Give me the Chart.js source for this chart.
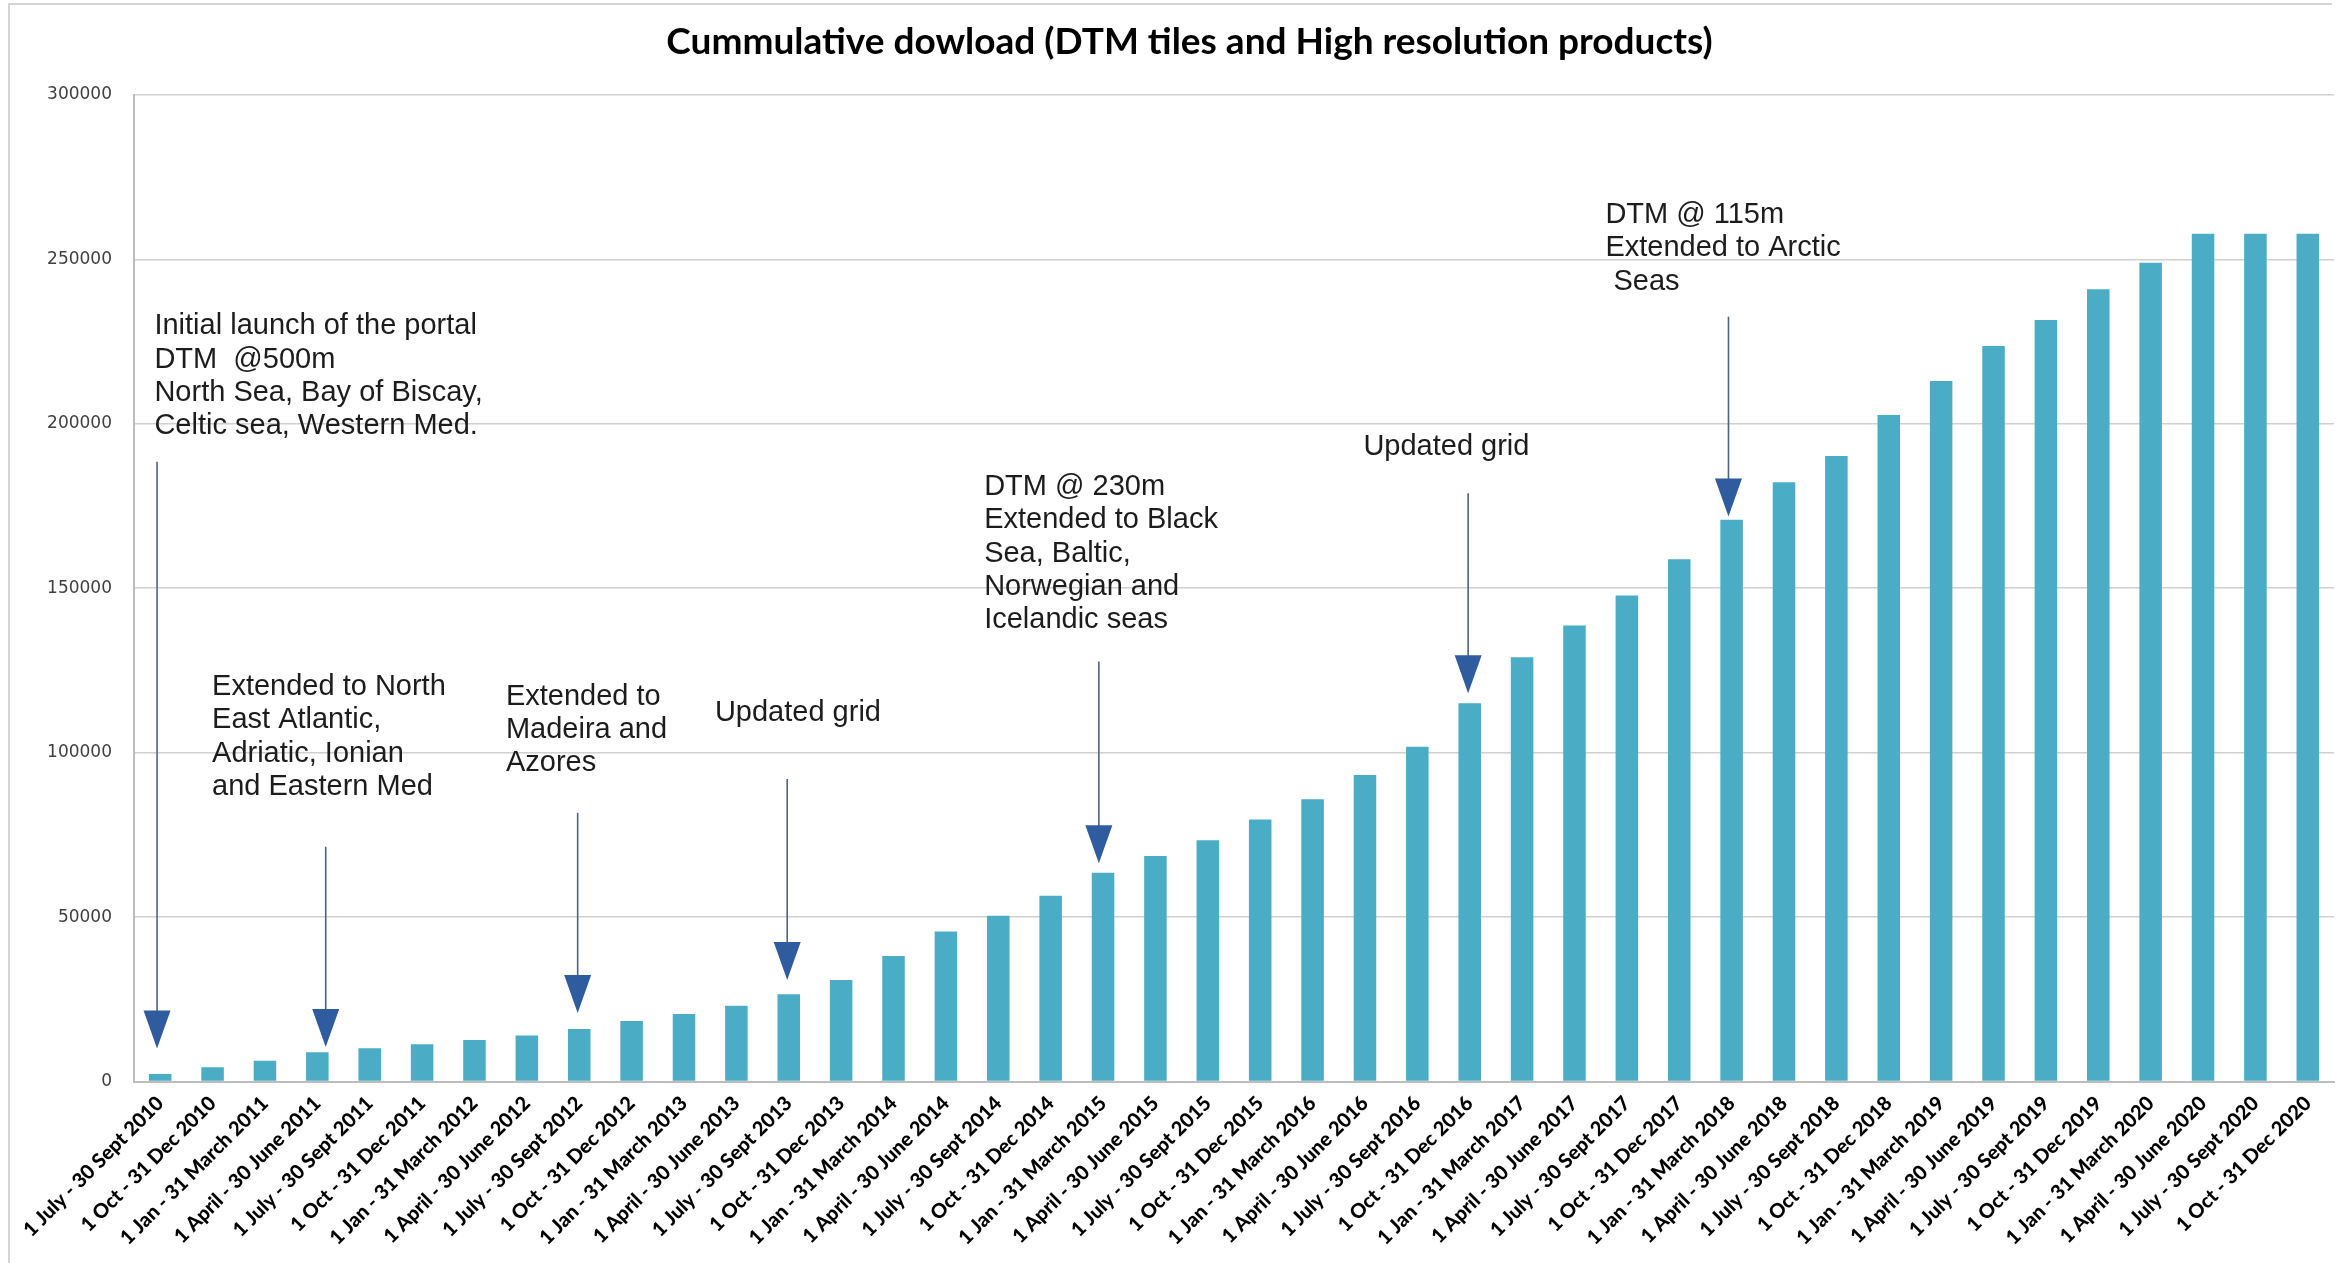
<!DOCTYPE html>
<html>
<head>
<meta charset="utf-8">
<script src="https://cdn.jsdelivr.net/npm/chart.js@4.4.1/dist/chart.umd.min.js"></script>
<style>
  html, body { margin: 0; padding: 0; background: #ffffff; }
  #c { display: block; }
</style>
</head>
<body>
<canvas id="c" width="2346" height="1263"></canvas>
<script>
// ---------- DATA ----------
const chartTitle = 'Cummulative dowload (DTM tiles and High resolution products)';

const quarters = [
  '1 July - 30 Sept 2010', '1 Oct - 31 Dec 2010',
  '1 Jan - 31 March 2011', '1 April - 30 June 2011', '1 July - 30 Sept 2011', '1 Oct - 31 Dec 2011',
  '1 Jan - 31 March 2012', '1 April - 30 June 2012', '1 July - 30 Sept 2012', '1 Oct - 31 Dec 2012',
  '1 Jan - 31 March 2013', '1 April - 30 June 2013', '1 July - 30 Sept 2013', '1 Oct - 31 Dec 2013',
  '1 Jan - 31 March 2014', '1 April - 30 June 2014', '1 July - 30 Sept 2014', '1 Oct - 31 Dec 2014',
  '1 Jan - 31 March 2015', '1 April - 30 June 2015', '1 July - 30 Sept 2015', '1 Oct - 31 Dec 2015',
  '1 Jan - 31 March 2016', '1 April - 30 June 2016', '1 July - 30 Sept 2016', '1 Oct - 31 Dec 2016',
  '1 Jan - 31 March 2017', '1 April - 30 June 2017', '1 July - 30 Sept 2017', '1 Oct - 31 Dec 2017',
  '1 Jan - 31 March 2018', '1 April - 30 June 2018', '1 July - 30 Sept 2018', '1 Oct - 31 Dec 2018',
  '1 Jan - 31 March 2019', '1 April - 30 June 2019', '1 July - 30 Sept 2019', '1 Oct - 31 Dec 2019',
  '1 Jan - 31 March 2020', '1 April - 30 June 2020', '1 July - 30 Sept 2020', '1 Oct - 31 Dec 2020'
];

const cumulativeDownloads = [
  2300, 4300,
  6300, 8900, 10100, 11300,
  12600, 14000, 16000, 18400,
  20500, 23000, 26500, 30900,
  38200, 45600, 50400, 56500,
  63500, 68600, 73400, 79700,
  85800, 93200, 101800, 115000,
  129000, 138700, 147800, 158800,
  170800, 182200, 190200, 202700,
  213000, 223700, 231600, 240900,
  249000, 257800, 257800, 257800
];

const yMin = 0;
const yMax = 300000;
const yStep = 50000;

// Annotation texts (one entry per milestone)
const noteLines = [
  ['Initial launch of the portal', 'DTM  @500m', 'North Sea, Bay of Biscay,', 'Celtic sea, Western Med.'],
  ['Extended to North', 'East Atlantic,', 'Adriatic, Ionian', 'and Eastern Med'],
  ['Extended to', 'Madeira and', 'Azores'],
  ['Updated grid'],
  ['DTM @ 230m', 'Extended to Black', 'Sea, Baltic,', 'Norwegian and', 'Icelandic seas'],
  ['Updated grid'],
  ['DTM @ 115m', 'Extended to Arctic', ' Seas']
];
// anchor of first text line: [category index, value]
const noteTextAnchor = [
  [-0.11, 229600], [0.99, 120000], [6.60, 117000], [10.59, 112200],
  [15.73, 180800], [22.97, 193100], [27.59, 263500]
];
// arrow: [category index, value at arrow top, value at arrow tip]
const noteArrow = [
  [-0.06, 188500, 10000], [3.16, 71400, 10500], [7.97, 81700, 20800], [11.97, 92000, 30900],
  [17.92, 127700, 66400], [24.97, 178900, 118100], [29.94, 232600, 171800]
];

// ---------- PLUGINS ----------
const frame = {
  id: 'frame',
  beforeDraw(chart) {
    const ctx = chart.ctx;
    ctx.save();
    ctx.fillStyle = '#ffffff';
    ctx.fillRect(0, 0, chart.width, chart.height);
    ctx.strokeStyle = '#d4d4d4';
    ctx.lineWidth = 2;
    ctx.beginPath();
    ctx.moveTo(9, chart.height);
    ctx.lineTo(9, 4);
    ctx.lineTo(chart.width - 14, 4);
    ctx.stroke();
    ctx.restore();
  }
};

const notes = {
  id: 'notes',
  afterDatasetsDraw(chart) {
    const ctx = chart.ctx;
    const xs = chart.scales.x, ys = chart.scales.y;
    ctx.save();
    // texts
    ctx.font = '29px "Liberation Sans", Arial, sans-serif';
    ctx.fillStyle = '#1c1c1c';
    ctx.textBaseline = 'middle';
    ctx.textAlign = 'left';
    const lh = 33.3;
    noteLines.forEach((lines, i) => {
      const x = xs.getPixelForValue(noteTextAnchor[i][0]);
      const y0 = ys.getPixelForValue(noteTextAnchor[i][1]);
      lines.forEach((t, k) => ctx.fillText(t, x, y0 + k * lh));
    });
    // arrows
    const headH = 38, headW = 27;
    noteArrow.forEach(a => {
      const x = xs.getPixelForValue(a[0]);
      const yTop = ys.getPixelForValue(a[1]);
      const yTip = ys.getPixelForValue(a[2]);
      ctx.strokeStyle = '#4d6285';
      ctx.lineWidth = 1.6;
      ctx.beginPath();
      ctx.moveTo(x, yTop);
      ctx.lineTo(x, yTip - headH + 2);
      ctx.stroke();
      ctx.fillStyle = '#2f5c9f';
      ctx.beginPath();
      ctx.moveTo(x - headW / 2, yTip - headH);
      ctx.lineTo(x + headW / 2, yTip - headH);
      ctx.lineTo(x, yTip);
      ctx.closePath();
      ctx.fill();
    });
    ctx.restore();
  }
};

// ---------- CHART ----------
new Chart(document.getElementById('c'), {
  type: 'bar',
  data: {
    labels: quarters,
    datasets: [{
      data: cumulativeDownloads,
      backgroundColor: '#4bacc6',
      borderWidth: 0,
      barPercentage: 0.43,
      categoryPercentage: 1.0
    }]
  },
  options: {
    responsive: false,
    devicePixelRatio: 1,
    animation: false,
    layout: { padding: { left: 45, right: 12, top: 0, bottom: 0 } },
    plugins: {
      legend: { display: false },
      tooltip: { enabled: false },
      title: {
        display: true,
        text: chartTitle,
        color: '#000000',
        font: { family: 'Lato, "Open Sans", sans-serif', size: 37, weight: 'bold', lineHeight: 1.2 },
        padding: { top: 20, bottom: 30.6 }
      }
    },
    scales: {
      x: {
        grid: { display: false, drawTicks: false },
        border: { display: true, color: '#bdbdbd', width: 2 },
        ticks: {
          autoSkip: false,
          minRotation: 45,
          maxRotation: 45,
          padding: 10,
          color: '#000000',
          font: { family: 'Lato, "Open Sans", sans-serif', size: 20, weight: '900' }
        },
        afterFit(s) { s.height = 181.5; }
      },
      y: {
        min: yMin,
        max: yMax,
        grid: { color: '#d0d0d0', lineWidth: 1.6, drawTicks: false },
        border: { display: true, color: '#bdbdbd', width: 2 },
        ticks: {
          stepSize: yStep,
          padding: 22,
          color: '#404040',
          font: { family: '"DejaVu Sans", sans-serif', size: 17 },
          callback: v => String(v)
        },
        afterFit(s) { s.width = 89; }
      }
    }
  },
  plugins: [frame, notes]
});
</script>
</body>
</html>
